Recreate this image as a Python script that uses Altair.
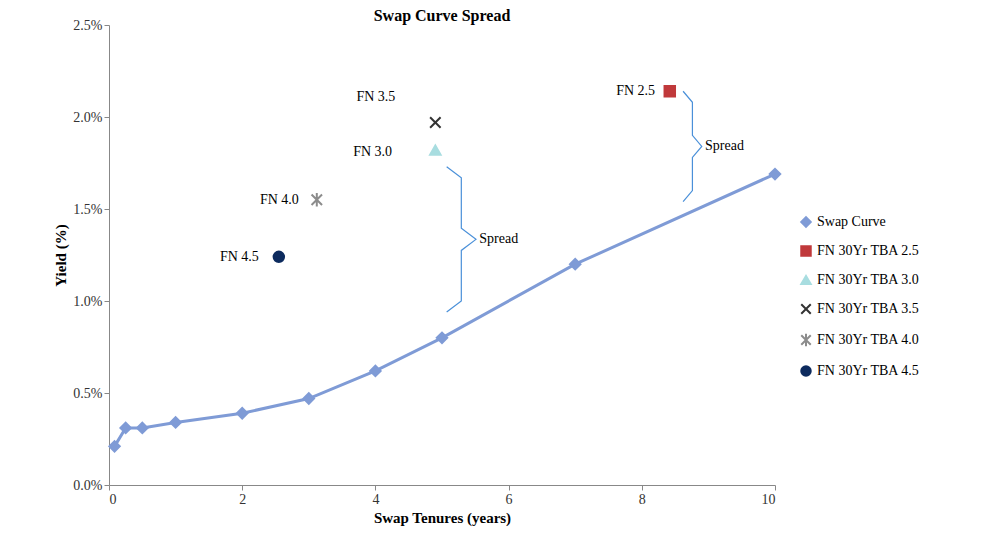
import altair as alt
import pandas as pd

tenor = [0.083, 0.25, 0.5, 1, 2, 3, 4, 5, 7, 10]
swap = [0.21, 0.31, 0.31, 0.34, 0.39, 0.47, 0.62, 0.80, 1.20, 1.69]

tba_names = ["FN 30Yr TBA 2.5", "FN 30Yr TBA 3.0", "FN 30Yr TBA 3.5", "FN 30Yr TBA 4.0", "FN 30Yr TBA 4.5"]
tba_x = [8.42, 4.9, 4.9, 3.12, 2.55]
tba_y = [2.14, 1.82, 1.97, 1.55, 1.24]
lab_txt = ["FN 2.5", "FN 3.0", "FN 3.5", "FN 4.0", "FN 4.5"]
lab_x = [8.2, 4.25, 4.3, 2.85, 2.25]
lab_y = [2.14, 1.81, 2.11, 1.55, 1.24]

series = ["Swap Curve"] + tba_names
colors = ["#7f9bd6", "#c0393b", "#a8dde0", "#333333", "#8c8c8c", "#0d2b5e"]
fills = ["#7f9bd6", "#c0393b", "#a8dde0", "transparent", "transparent", "#0d2b5e"]
cross = "M-1,-1L1,1M-1,1L1,-1"
star = "M-1,-1L1,1M-1,1L1,-1M0,-1.3L0,1.3"
shapes = ["diamond", "square", "triangle-up", cross, star, "circle"]

# braces: top, bottom, x start, depth
braces = [(1.73, 0.94, 5.07, 0.22), (2.14, 1.54, 8.62, 0.14)]

sw = pd.DataFrame({"x": tenor, "y": [v / 100 for v in swap], "s": "Swap Curve"})
tb = pd.DataFrame({"x": tba_x, "y": [v / 100 for v in tba_y], "s": tba_names})
lb = pd.DataFrame({"x": lab_x, "y": [v / 100 for v in lab_y], "t": lab_txt})

rows = []
for i, (top, bot, x0, d) in enumerate(braces):
    mid = (top + bot) / 2
    e = 0.06
    pts = [(x0, top), (x0 + d, top - e), (x0 + d, mid + e), (x0 + 2 * d, mid),
           (x0 + d, mid - e), (x0 + d, bot + e), (x0, bot)]
    for j, (px, py) in enumerate(pts):
        rows.append({"b": i, "o": j, "x": px, "y": py / 100})
br = pd.DataFrame(rows)
sp = pd.DataFrame({"x": [b[2] + 2 * b[3] + 0.05 for b in braces],
                   "y": [(b[0] + b[1]) / 200 for b in braces], "t": "Spread"})

xs = alt.X("x:Q", scale=alt.Scale(domain=[0, 10]),
           axis=alt.Axis(title="Swap Tenures (years)", values=[0, 2, 4, 6, 8, 10], grid=False))
ys = alt.Y("y:Q", scale=alt.Scale(domain=[0, 0.025]),
           axis=alt.Axis(title="Yield (%)", format=".1%", values=[0, 0.005, 0.01, 0.015, 0.02, 0.025], grid=False))
col = alt.Color("s:N", scale=alt.Scale(domain=series, range=colors), title=None)
fil = alt.Fill("s:N", scale=alt.Scale(domain=series, range=fills), title=None)
shp = alt.Shape("s:N", scale=alt.Scale(domain=series, range=shapes), title=None)

line = alt.Chart(sw).mark_line(strokeWidth=3, color=colors[0]).encode(x=xs, y=ys)
pts = alt.Chart(pd.concat([sw, tb])).mark_point(filled=False, size=110, opacity=1, strokeWidth=2).encode(
    x=xs, y=ys, color=col, fill=fil, shape=shp)
labels = alt.Chart(lb).mark_text(align="right", fontSize=14, font="Liberation Serif").encode(x=xs, y=ys, text="t:N")
brace = alt.Chart(br).mark_line(color="#4a90d9", strokeWidth=1.2).encode(x=xs, y=ys, detail="b:N", order="o:Q")
sptxt = alt.Chart(sp).mark_text(align="left", fontSize=14, font="Liberation Serif").encode(x=xs, y=ys, text="t:N")

chart = (line + pts + labels + brace + sptxt).properties(
    width=666, height=460,
    padding={"left": 45, "top": 0, "right": 5, "bottom": 5},
    title=alt.Title("Swap Curve Spread", fontSize=16, font="Liberation Serif", fontWeight="bold", offset=-6),
).configure(font="Liberation Serif").configure_view(stroke=None).configure_axis(
    labelFont="Liberation Serif", titleFont="Liberation Serif", labelFontSize=14, titleFontSize=15,
    domainColor="#888", tickColor="#888", labelColor="#333",
).configure_legend(labelFontSize=14, labelFont="Liberation Serif", symbolSize=90, orient="none",
                   legendX=690, legendY=190, padding=0, rowPadding=11, labelLimit=200,
                   symbolStrokeWidth=2)

chart.save("out.html", embed_options={"renderer": "svg", "actions": False})
